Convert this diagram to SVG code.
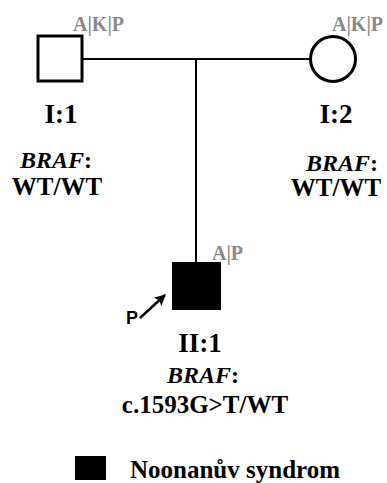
<svg xmlns="http://www.w3.org/2000/svg" width="387" height="483" viewBox="0 0 387 483">
<defs>
<style>
.t{font-family:"Liberation Serif","Times New Roman",serif;font-weight:bold;fill:#000;text-anchor:middle}
.g{font-family:"Liberation Serif","Times New Roman",serif;font-weight:bold;fill:#8a8a8a;font-size:20px}
.i{font-style:italic}
.ln{stroke:#000;stroke-width:2;fill:none}
</style>
<marker id="ah" viewBox="0 0 10 10" refX="9" refY="5" markerWidth="4.5" markerHeight="4.5" orient="auto">
<path d="M0,0 L10,5 L0,10 L2,5 z" fill="#000"/>
</marker>
</defs>
<rect width="387" height="483" fill="#fff"/>
<g id="connectors">
<line class="ln" x1="83" y1="59" x2="310" y2="59"/>
<line class="ln" x1="196" y1="59" x2="196" y2="262"/>
</g>
<g id="I1">
<rect x="38" y="36" width="44" height="45" fill="#fff" stroke="#000" stroke-width="3"/>
<text class="g" x="73" y="31">A|K|P</text>
<text class="t" x="61" y="123" font-size="27">I:1</text>
<text class="t" x="56" y="168" font-size="24"><tspan class="i">BRAF</tspan>:</text>
<text class="t" x="57" y="195" font-size="25">WT/WT</text>
</g>
<g id="I2">
<circle cx="333" cy="59" r="22.5" fill="#fff" stroke="#000" stroke-width="3"/>
<text class="g" x="332" y="31">A|K|P</text>
<text class="t" x="336" y="123" font-size="27">I:2</text>
<text class="t" x="342" y="171" font-size="24"><tspan class="i">BRAF</tspan>:</text>
<text class="t" x="336" y="196" font-size="25">WT/WT</text>
</g>
<g id="II1">
<rect x="172" y="262" width="49" height="48" fill="#000"/>
<text class="g" x="212" y="260">A|P</text>
<text x="126" y="324" font-family="Liberation Sans,Arial,sans-serif" font-weight="bold" font-size="18">P</text>
<line x1="140" y1="318" x2="165" y2="295" stroke="#000" stroke-width="2.5" marker-end="url(#ah)"/>
<text class="t" x="200" y="352" font-size="27">II:1</text>
<text class="t" x="203" y="383" font-size="24"><tspan class="i">BRAF</tspan>:</text>
<text class="t" x="205" y="413" font-size="25">c.1593G&gt;T/WT</text>
</g>
<g id="legend">
<rect x="75" y="456" width="31" height="24" fill="#000"/>
<text x="130" y="478" font-family="Liberation Serif,Times New Roman,serif" font-weight="bold" font-size="25">Noonanův syndrom</text>
</g>
</svg>
